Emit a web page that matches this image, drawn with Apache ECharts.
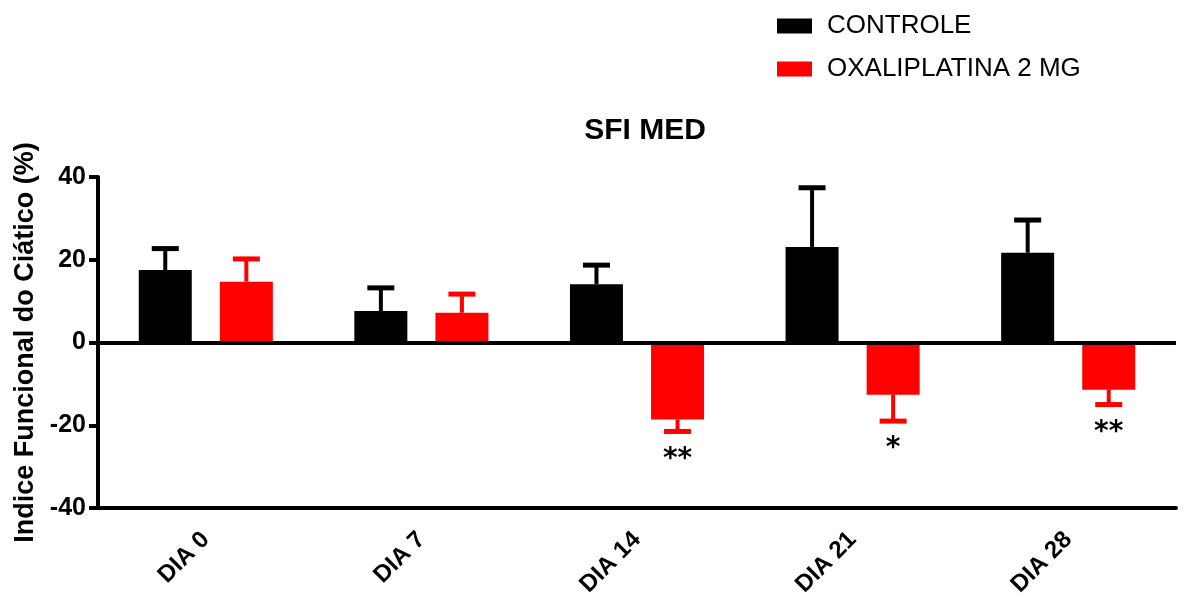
<!DOCTYPE html>
<html>
<head>
<meta charset="utf-8">
<script src="https://cdn.jsdelivr.net/npm/echarts@6/dist/echarts.min.js"></script>
<style>
  html, body { margin: 0; padding: 0; background: #fff; }
  #main { width: 1184px; height: 597px; }
</style>
</head>
<body>
<div id="main"></div>
<script>
var chartDom = document.getElementById('main');
var myChart = echarts.init(chartDom);

// dados
var categorias = ['DIA 0', 'DIA 7', 'DIA 14', 'DIA 21', 'DIA 28'];
var controle = [17.5, 7.6, 14.1, 23.1, 21.7];
var controleErro = [5.2, 5.6, 4.6, 14.3, 7.9];
var oxali = [14.7, 7.2, -18.6, -12.6, -11.4];
var oxaliErro = [5.5, 4.5, 2.9, 6.4, 3.6];
var significancia = ['', '', '**', '*', '**'];
var yTicks = [-40, -20, 0, 20, 40];

var fonte = '"Liberation Sans", Arial, sans-serif';

// barra de erro (só para fora da barra, como no GraphPad)
function erroSerie(valores, erros, cor, lado, sig) {
    var dados = valores.map(function (v, i) { return [i, v, erros[i], sig ? sig[i] : '']; });
    return {
        type: 'custom',
        silent: true,
        z: 5,
        data: dados,
        renderItem: function (params, api) {
            var i = api.value(0);
            var v = api.value(1);
            var e = api.value(2);
            var s = dados[params.dataIndex][3];
            var fim = v >= 0 ? v + e : v - e;
            var banda = api.size([1, 0])[0];
            var dx = lado * banda * 0.188;
            var p0 = api.coord([i, v]);
            var p1 = api.coord([i, fim]);
            var x = p0[0] + dx;
            var filhos = [
                { type: 'line', shape: { x1: x, y1: p0[1], x2: x, y2: p1[1] }, style: { stroke: cor, lineWidth: 4 } },
                { type: 'line', shape: { x1: x - 13.5, y1: p1[1], x2: x + 13.5, y2: p1[1] }, style: { stroke: cor, lineWidth: 5 } }
            ];
            if (s) {
                filhos.push({
                    type: 'text',
                    style: {
                        x: x, y: p1[1] + 14, text: s,
                        fill: '#000', font: 'bold 28px "DejaVu Sans", sans-serif',
                        align: 'center', verticalAlign: 'top'
                    }
                });
            }
            return { type: 'group', children: filhos };
        }
    };
}

var option = {
    backgroundColor: '#fff',
    title: {
        text: 'SFI MED',
        left: 640,
        top: 111,
        textAlign: 'center',
        textStyle: { fontFamily: fonte, fontWeight: 'bold', fontSize: 30, color: '#000' }
    },
    legend: {
        orient: 'vertical',
        left: 772,
        top: 8,
        itemWidth: 35,
        itemHeight: 15,
        itemGap: 17,
        icon: 'rect',
        textStyle: { fontFamily: fonte, fontSize: 26, color: '#000', padding: [0, 0, 0, 10] },
        data: ['CONTROLE', 'OXALIPLATINA 2 MG']
    },
    grid: {
        left: 98,
        right: 8,
        top: 177,
        bottom: 89,
        outerBoundsMode: 'none'
    },
    xAxis: {
        type: 'category',
        data: categorias,
        axisLine: { onZero: false, lineStyle: { color: '#000', width: 4 } },
        axisTick: { alignWithLabel: true, length: 9, lineStyle: { color: '#000', width: 4 } },
        axisLabel: {
            rotate: 45,
            margin: 28,
            fontFamily: fonte,
            fontWeight: 'bold',
            fontSize: 24,
            color: '#000'
        }
    },
    yAxis: {
        type: 'value',
        min: -40,
        max: 40,
        interval: 20,
        name: 'Indice Funcional do Ciático (%)',
        nameLocation: 'middle',
        nameGap: 58,
        nameTextStyle: { fontFamily: fonte, fontWeight: 'bold', fontSize: 27, color: '#000' },
        axisLine: { show: true, lineStyle: { color: '#000', width: 4 } },
        axisTick: { show: true, length: 9, lineStyle: { color: '#000', width: 4 } },
        splitLine: { show: false },
        axisLabel: {
            margin: 12,
            fontFamily: fonte,
            fontWeight: 'bold',
            fontSize: 25,
            color: '#000',
            formatter: function (v) { return yTicks.indexOf(v) >= 0 ? String(v) : ''; }
        }
    },
    series: [
        {
            name: 'CONTROLE',
            type: 'bar',
            data: controle,
            barWidth: 53,
            barGap: '53%',
            itemStyle: { color: '#000' },
            markLine: {
                silent: true,
                symbol: 'none',
                label: { show: false },
                lineStyle: { color: '#000', width: 4, type: 'solid' },
                data: [{ yAxis: 0 }]
            }
        },
        {
            name: 'OXALIPLATINA 2 MG',
            type: 'bar',
            data: oxali,
            barWidth: 53,
            itemStyle: { color: '#ff0000' }
        },
        erroSerie(controle, controleErro, '#000', -1, null),
        erroSerie(oxali, oxaliErro, '#ff0000', 1, significancia)
    ]
};

myChart.setOption(option);
window.addEventListener('resize', function () {
    myChart.resize();
});
</script>
</body>
</html>
